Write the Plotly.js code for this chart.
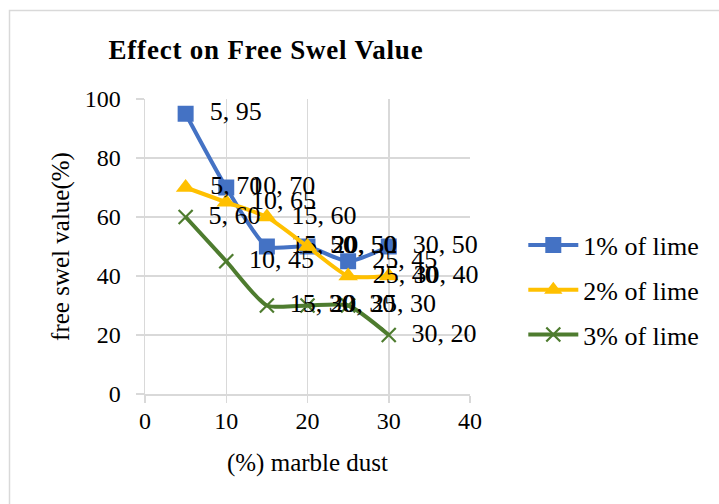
<!DOCTYPE html>
<html>
<head>
<meta charset="utf-8">
<script src="https://cdn.plot.ly/plotly-3.0.1.min.js"></script>
<style>
  html, body { margin: 0; padding: 0; background: #fff; }
  #chart { width: 719px; height: 504px; }
</style>
</head>
<body>
<div id="chart"></div>
<script>
// Marble dust content (%) on the x axis
const marbleDust = [5, 10, 15, 20, 25, 30];

// Free swell value (%) for each lime content
const lime1 = [95, 70, 50, 50, 45, 50];
const lime2 = [70, 65, 60, 50, 40, 40];
const lime3 = [60, 45, 30, 30, 30, 20];

const seriesNames = ['1% of lime', '2% of lime', '3% of lime'];
const seriesColors = ['#4472C4', '#FFC000', '#4E7C2F'];

const FONT = "'Liberation Serif', 'Times New Roman', serif";

function makeTrace(ys, name, color, symbol, msize, mline, group) {
  return {
    x: marbleDust,
    y: ys,
    name: name,
    legendgroup: group,
    type: 'scatter',
    mode: 'lines+markers+text',
    line: { color: color, width: 4, shape: 'spline', smoothing: 0.6 },
    marker: { symbol: symbol, size: msize, color: color, line: mline },
    // "x, y" value labels to the right of each point
    texttemplate: '\u00a0\u00a0%{x}, %{y}',
    textposition: 'middle right',
    textfont: { family: FONT, size: 26, color: '#000' },
    cliponaxis: false
  };
}

const traces = [
  makeTrace(lime1, seriesNames[0], seriesColors[0], 'square', 16, { width: 0 }, 'g1'),
  makeTrace(lime2, seriesNames[1], seriesColors[1], 'triangle-up', 17, { width: 0 }, 'g2'),
  makeTrace(lime3, seriesNames[2], seriesColors[2], 'x-thin', 14, { width: 2.2, color: seriesColors[2] }, 'g3')
];

const layout = {
  width: 719,
  height: 504,
  margin: { l: 145, r: 249, t: 99, b: 110 },
  paper_bgcolor: '#fff',
  plot_bgcolor: '#fff',
  showlegend: true,
  title: {
    text: '<b>Effect on Free Swel Value</b>',
    font: { family: FONT, size: 27, color: '#000' },
    x: 266 / 719, xref: 'container', xanchor: 'center',
    y: 1 - 50 / 504, yref: 'container', yanchor: 'middle'
  },
  xaxis: {
    range: [0, 40],
    dtick: 10,
    tick0: 0,
    showgrid: true,
    gridcolor: '#d9d9d9',
    gridwidth: 1.5,
    zeroline: false,
    showline: true,
    linecolor: '#d9d9d9',
    linewidth: 1.5,
    ticks: 'outside',
    ticklen: 7,
    tickcolor: '#d9d9d9',
    tickwidth: 1.5,
    ticklabelstandoff: -2,
    tickfont: { family: FONT, size: 24, color: '#000' },
    title: { text: '(%) marble dust', font: { family: FONT, size: 25, color: '#000' }, standoff: 20 }
  },
  yaxis: {
    range: [0, 100],
    dtick: 20,
    tick0: 0,
    showgrid: true,
    gridcolor: '#d9d9d9',
    gridwidth: 1.5,
    zeroline: false,
    showline: true,
    linecolor: '#d9d9d9',
    linewidth: 1.5,
    ticks: 'outside',
    ticklen: 8,
    tickcolor: '#d9d9d9',
    tickwidth: 1.5,
    ticklabelstandoff: 10,
    tickfont: { family: FONT, size: 24, color: '#000' },
    title: { text: 'free swel value(%)', font: { family: FONT, size: 25, color: '#000' }, standoff: 8 }
  },
  legend: {
    x: 1.164, xanchor: 'left',
    y: (394 - 290) / 295, yanchor: 'middle',
    font: { family: FONT, size: 26, color: '#000' },
    itemwidth: 50,
    tracegroupgap: 8,
    bgcolor: 'rgba(0,0,0,0)'
  },
  shapes: [{
    type: 'rect', xref: 'paper', yref: 'paper',
    x0: (9.5 - 145) / 325, x1: 2,
    y0: -1, y1: (394 - 10.5) / 295,
    line: { color: '#d9d9d9', width: 1.5 },
    fillcolor: 'rgba(0,0,0,0)',
    layer: 'below'
  }]
};

Plotly.newPlot('chart', traces, layout, { displayModeBar: false, staticPlot: true }).then(function (gd) {
  const t = gd.querySelector('.gtitle');
  if (t) t.style.letterSpacing = '0.8px';
});
</script>
</body>
</html>
